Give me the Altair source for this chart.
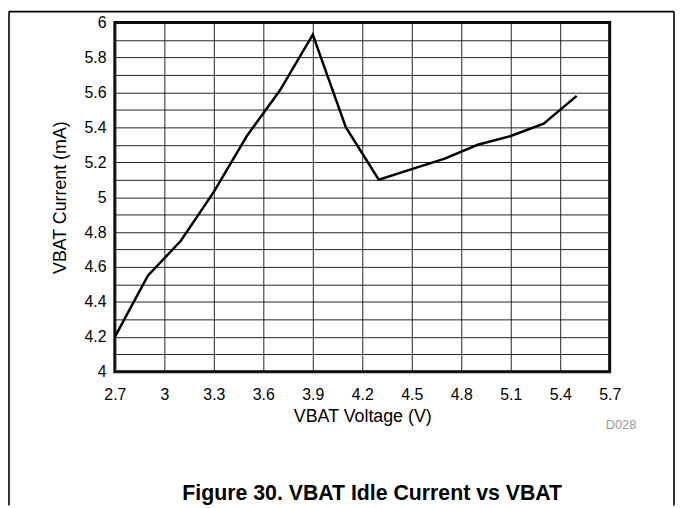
import altair as alt
import pandas as pd

# ---- data ----
voltage = [2.7, 2.9, 3.1, 3.3, 3.5, 3.7, 3.9, 4.1, 4.3, 4.5, 4.7, 4.9, 5.1, 5.3, 5.5]
current = [4.20, 4.55, 4.75, 5.03, 5.35, 5.61, 5.93, 5.40, 5.10, 5.16, 5.22, 5.30, 5.35, 5.42, 5.58]

x_ticks = [2.7, 3.0, 3.3, 3.6, 3.9, 4.2, 4.5, 4.8, 5.1, 5.4, 5.7]
y_ticks = [4.0, 4.1, 4.2, 4.3, 4.4, 4.5, 4.6, 4.7, 4.8, 4.9, 5.0,
           5.1, 5.2, 5.3, 5.4, 5.5, 5.6, 5.7, 5.8, 5.9, 6.0]

x_title = "VBAT Voltage (V)"
y_title = "VBAT Current (mA)"
fig_title = ["Figure 30. VBAT Idle Current vs VBAT"]
code_label = ["D028"]

FONT = "Liberation Sans"

df = pd.DataFrame({"v": voltage, "i": current})

x_enc = alt.X(
    "v:Q",
    scale=alt.Scale(domain=[2.7, 5.7], nice=False, zero=False),
    axis=alt.Axis(values=x_ticks, format="~g", title=x_title, grid=True,
                  ticks=False, tickSize=0, domain=False, labelPadding=15,
                  titlePadding=5, labelFlush=False, labelOverlap=False),
)
y_enc = alt.Y(
    "i:Q",
    scale=alt.Scale(domain=[4, 6], nice=False, zero=False),
    axis=alt.Axis(values=y_ticks,
                  labelExpr="abs(round(datum.value*10)) % 2 == 0 ? format(datum.value, '~g') : ''",
                  title=y_title, grid=True, ticks=False, tickSize=0, domain=False,
                  labelPadding=9, titlePadding=15, labelFlush=False,
                  labelOverlap=False),
)

line = alt.Chart(df).mark_line(color="black", strokeWidth=2.5).encode(x=x_enc, y=y_enc)

title_txt = alt.Chart(pd.DataFrame({"t": fig_title})).mark_text(
    font=FONT, fontSize=21.5, fontWeight="bold", color="black",
    align="center", baseline="alphabetic"
).encode(text="t:N", x=alt.value(260), y=alt.value(483))

code_txt = alt.Chart(pd.DataFrame({"t": code_label})).mark_text(
    font=FONT, fontSize=13, color="#9a9a9a", align="right", baseline="alphabetic"
).encode(text="t:N", x=alt.value(527), y=alt.value(411))

frame_df = pd.DataFrame({"k": [0]})
frame_left = alt.Chart(frame_df).mark_rule(color="black", strokeWidth=1.6).encode(
    x=alt.value(-107), y=alt.value(-11), y2=alt.value(488))
frame_right = alt.Chart(frame_df).mark_rule(color="black", strokeWidth=1.6).encode(
    x=alt.value(565), y=alt.value(-11), y2=alt.value(488))
frame_top = alt.Chart(frame_df).mark_rule(color="black", strokeWidth=1.6).encode(
    x=alt.value(-107), x2=alt.value(565), y=alt.value(-11))

chart = alt.layer(line, title_txt, code_txt, frame_left, frame_right, frame_top).properties(
    width=500, height=353,
    autosize=alt.AutoSizeParams(type="none"),
    padding={"left": 108, "top": 12, "right": 66, "bottom": 135},
    background="white",
).configure_view(
    stroke="black", strokeWidth=3
).configure_axis(
    labelFont=FONT, titleFont=FONT, labelColor="black", titleColor="black",
    gridColor="#222222", gridOpacity=1, gridWidth=1,
    labelFontSize=16, titleFontSize=18, titleFontWeight="normal",
)

chart.save("out.html", embed_options={"renderer": "svg", "actions": False})
